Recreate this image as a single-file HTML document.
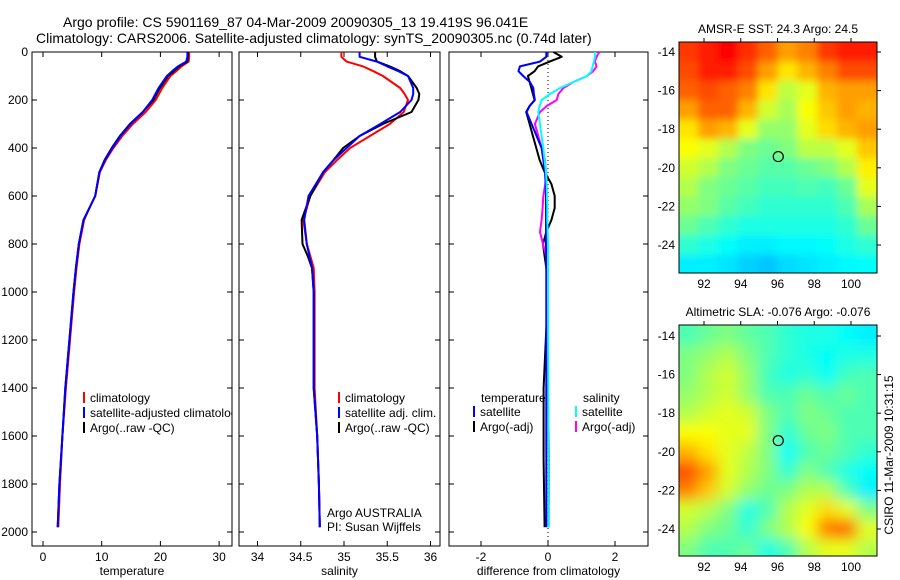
<!DOCTYPE html>
<html><head><meta charset="utf-8">
<style>
html,body{margin:0;padding:0;background:#fff;}
svg{display:block;font-family:"Liberation Sans",Arial,sans-serif;}
text{fill:#000;}
</style></head>
<body>
<svg id="chart" width="900" height="580" viewBox="0 0 900 580" xmlns="http://www.w3.org/2000/svg">
<defs>
<clipPath id="clip1"><rect x="32" y="52" width="200" height="494"/></clipPath>
<clipPath id="clip2"><rect x="239" y="52" width="201" height="494"/></clipPath>
<clipPath id="clip3"><rect x="449" y="52" width="199" height="494"/></clipPath>
<clipPath id="clipM1"><rect x="679" y="42" width="198" height="231"/></clipPath>
<clipPath id="clipM2"><rect x="679" y="325" width="198" height="231"/></clipPath>
<filter id="blur" x="-5%" y="-5%" width="110%" height="110%"><feGaussianBlur stdDeviation="7"/></filter>
<filter id="blur2" x="-5%" y="-5%" width="110%" height="110%"><feGaussianBlur stdDeviation="4"/></filter>
</defs>
<text x="63" y="27" font-size="14">Argo profile: CS 5901169_87 04-Mar-2009 20090305_13 19.419S 96.041E</text>
<text x="36" y="43" font-size="14">Climatology: CARS2006. Satellite-adjusted climatology: synTS_20090305.nc (0.74d later)</text>
<g id="layer"></g>
<text transform="translate(893,455) rotate(-90)" text-anchor="middle" font-size="12">CSIRO 11-Mar-2009 10:31:15</text>
</svg>
<script>
// ---------- data ----------
const depthT = [0,20,40,60,80,100,150,200,250,300,350,400,450,500,600,650,700,800,900,1000,1200,1400,1600,1800,1980];
const tempArgo = [24.7,24.7,24.6,23.2,22.3,21.3,19.9,18.8,17.0,14.8,13.1,11.7,10.5,9.6,8.9,7.9,6.9,6.1,5.6,5.2,4.5,3.8,3.3,2.8,2.5];
const tempClim = [24.9,24.9,24.8,23.6,22.7,21.7,20.3,19.2,17.5,15.3,13.5,12.0,10.7,9.7,8.9,7.9,7.0,6.2,5.7,5.3,4.6,3.9,3.3,2.9,2.6];
const tempSat  = [24.6,24.6,24.4,23.0,22.0,21.1,19.7,18.6,17.0,14.9,13.2,11.8,10.6,9.6,8.9,7.9,6.9,6.1,5.6,5.2,4.5,3.8,3.3,2.8,2.5];

const depthS = [0,20,40,60,80,100,150,175,200,250,300,350,400,450,500,600,700,800,850,900,1000,1400,1600,1800,1980];
const salArgo = [35.36,35.36,35.38,35.53,35.65,35.74,35.84,35.87,35.86,35.78,35.45,35.18,34.99,34.88,34.76,34.61,34.51,34.52,34.58,34.63,34.65,34.65,34.69,34.71,34.72];
const salClim = [34.97,34.97,35.03,35.22,35.34,35.45,35.65,35.70,35.74,35.69,35.53,35.30,35.07,34.92,34.78,34.61,34.53,34.57,34.61,34.65,34.66,34.66,34.69,34.71,34.72];
const salSat  = [35.18,35.18,35.38,35.50,35.63,35.74,35.80,35.80,35.78,35.65,35.42,35.18,35.03,34.88,34.76,34.59,34.54,34.57,34.60,34.63,34.65,34.65,34.69,34.71,34.72];

const depthD = [0,20,40,60,80,100,125,150,175,200,225,250,300,350,400,450,500,550,600,650,700,750,800,850,900,1000,1400,1700,1980];
const dTempArgo = [0.16,0.41,0.05,-0.30,-0.40,-0.60,-0.55,-0.50,-0.45,-0.40,-0.55,-0.65,-0.55,-0.45,-0.35,-0.25,-0.10,0.10,0.20,0.20,0.10,-0.05,-0.15,-0.10,-0.05,0.0,-0.13,-0.13,-0.10];
const dTempSat  = [-0.05,-0.05,-0.24,-0.84,-0.88,-0.74,-0.54,-0.44,-0.42,-0.39,-0.55,-0.64,-0.49,-0.34,-0.19,-0.14,-0.09,-0.07,-0.06,-0.06,-0.06,-0.06,-0.06,-0.05,-0.05,-0.05,-0.05,-0.05,-0.05];
const dSalSat   = [1.40,1.40,1.37,1.33,1.30,1.16,0.76,0.36,0.06,-0.19,-0.25,-0.29,-0.24,-0.19,-0.14,-0.10,-0.06,-0.04,-0.03,-0.02,-0.02,-0.01,0.0,0.0,0.0,0.0,0.01,0.02,0.02];
const dSalArgo  = [1.53,1.45,1.40,1.45,1.35,1.16,0.76,0.46,0.31,0.26,-0.04,-0.24,-0.39,-0.29,-0.19,-0.09,-0.06,-0.08,-0.14,-0.16,-0.19,-0.24,-0.15,-0.05,-0.02,0.0,0.0,0.03,0.02];

const tempTicks = [0,10,20,30];
const salTicks = [34,34.5,35,35.5,36];
const salTickLabels = ["34","34.5","35","35.5","36"];
const diffTicks = [-2,0,2];
const depthTicks = [0,200,400,600,800,1000,1200,1400,1600,1800,2000];

const lonTicks = [92,94,96,98,100];
const latTicks = [14,16,18,20,22,24];
const argoLon = 96.041, argoLat = 19.419;
const sstGrid = [
[0.82,0.85,0.87,0.83,0.78,0.72,0.75,0.82,0.85,0.85],
[0.80,0.85,0.85,0.80,0.72,0.65,0.70,0.75,0.80,0.80],
[0.78,0.80,0.78,0.75,0.65,0.56,0.60,0.70,0.72,0.72],
[0.72,0.78,0.78,0.70,0.58,0.54,0.62,0.68,0.72,0.70],
[0.65,0.72,0.70,0.60,0.52,0.52,0.60,0.66,0.70,0.72],
[0.62,0.60,0.55,0.50,0.48,0.50,0.56,0.56,0.60,0.68],
[0.58,0.55,0.50,0.48,0.46,0.46,0.48,0.50,0.55,0.64],
[0.55,0.50,0.48,0.46,0.44,0.44,0.45,0.44,0.48,0.60],
[0.52,0.50,0.46,0.44,0.42,0.42,0.42,0.42,0.45,0.54],
[0.48,0.45,0.42,0.40,0.40,0.40,0.40,0.40,0.42,0.48],
[0.42,0.40,0.38,0.36,0.36,0.37,0.37,0.38,0.40,0.42],
[0.36,0.36,0.35,0.33,0.32,0.34,0.35,0.36,0.37,0.38]];
const slaGrid = [
[0.45,0.48,0.50,0.47,0.45,0.42,0.40,0.40,0.38,0.36],
[0.50,0.52,0.55,0.50,0.45,0.42,0.40,0.38,0.40,0.40],
[0.50,0.55,0.58,0.52,0.44,0.40,0.42,0.38,0.44,0.45],
[0.52,0.55,0.58,0.52,0.45,0.45,0.48,0.45,0.48,0.45],
[0.55,0.58,0.60,0.58,0.50,0.45,0.50,0.48,0.45,0.45],
[0.62,0.62,0.60,0.60,0.50,0.42,0.48,0.50,0.45,0.45],
[0.70,0.65,0.60,0.56,0.50,0.38,0.45,0.48,0.45,0.42],
[0.80,0.72,0.60,0.55,0.50,0.42,0.50,0.45,0.40,0.38],
[0.75,0.68,0.58,0.52,0.48,0.50,0.55,0.55,0.45,0.36],
[0.58,0.55,0.50,0.40,0.45,0.55,0.60,0.66,0.60,0.50],
[0.55,0.50,0.48,0.42,0.50,0.55,0.62,0.76,0.78,0.60],
[0.50,0.45,0.45,0.48,0.40,0.45,0.55,0.60,0.60,0.55]];

// ---------- helpers ----------
const NS="http://www.w3.org/2000/svg";
const layer=document.getElementById('layer');
function mk(tag,attrs,parent){const e=document.createElementNS(NS,tag);for(const k in attrs)e.setAttribute(k,attrs[k]);(parent||layer).appendChild(e);return e;}
const yTop=52, yBot=546;
const yDepth = z => yTop + 0.24*z;

function jet(v){v=Math.max(0,Math.min(1,v));
 const r=Math.max(0,Math.min(1,Math.min(4*v-1.5,-4*v+4.5)));
 const g=Math.max(0,Math.min(1,Math.min(4*v-0.5,-4*v+3.5)));
 const b=Math.max(0,Math.min(1,Math.min(4*v+0.5,-4*v+2.5)));
 return `rgb(${Math.round(r*255)},${Math.round(g*255)},${Math.round(b*255)})`;}

function panel(name,x0,x1,xs,ticks,labels,xlabel,showY,clipId){
 const g=mk('g',{});
 
 
 const box=mk('rect',{x:x0,y:yTop,width:x1-x0,height:yBot-yTop,fill:'#fff',stroke:'#000','stroke-width':1},g);
 
 
 ticks.forEach((t,i)=>{const x=xs(t);
  mk('line',{x1:x,x2:x,y1:yTop,y2:yTop+5,stroke:'#000'},g);
  mk('line',{x1:x,x2:x,y1:yBot,y2:yBot-5,stroke:'#000'},g);
  const tl=mk('text',{x:x,y:yBot+15,'font-size':12,'text-anchor':'middle'},g);
  tl.textContent=labels[i];
  
  
 });
 depthTicks.forEach(d=>{const y=yDepth(d);
  mk('line',{x1:x0,x2:x0+5,y1:y,y2:y,stroke:'#000'},g);
  mk('line',{x1:x1,x2:x1-5,y1:y,y2:y,stroke:'#000'},g);
  if(showY){const tl=mk('text',{x:x0-4,y:y+4,'font-size':12,'text-anchor':'end'},g);tl.textContent=d;
   
   }
 });
 const xl=mk('text',{x:(x0+x1)/2,y:575,'font-size':12,'text-anchor':'middle'},g);
 xl.textContent=xlabel;
 
 
 const plot=mk('g',{'clip-path':`url(#${clipId})`},g);
 return plot;
}
function line(parent,name,xs,vals,depths,color,w){
 const d=vals.map((v,i)=>(i?'L':'M')+xs(v).toFixed(1)+','+yDepth(depths[i]).toFixed(1)).join(' ');
 const p=mk('path',{d:d,fill:'none',stroke:color,'stroke-width':w||2,'stroke-linejoin':'round'},parent);
 
 
}
function legendItem(parent,name,x,y,color,label){
 if(color){mk('rect',{x:x,y:y-10,width:2,height:11,fill:color},parent);}
 const t=mk('text',{x:x+7,y:y,'font-size':12},parent);t.textContent=label;
 
 
}

const xT=t=>43+5.87*t;
const p1=panel('temperature-panel',32,232,xT,tempTicks,tempTicks.map(String),'temperature',true,'clip1');
line(p1,'temp-climatology-line',xT,tempClim,depthT,'#ff0000');
line(p1,'temp-argo-line',xT,tempArgo,depthT,'#000000');
line(p1,'temp-satellite-line',xT,tempSat,depthT,'#0000ff');
legendItem(p1,'legend-climatology',83,402,'#ff0000','climatology');
legendItem(p1,'legend-satellite-adjusted',83,417,'#0000ff','satellite-adjusted climatology');
legendItem(p1,'legend-argo',83,432,'#000000','Argo(..raw -QC)');

const xS=s=>257.5+86.5*(s-34);
const p2=panel('salinity-panel',239,440,xS,salTicks,salTickLabels,'salinity',false,'clip2');
line(p2,'sal-climatology-line',xS,salClim,depthS,'#ff0000');
line(p2,'sal-argo-line',xS,salArgo,depthS,'#000000');
line(p2,'sal-satellite-line',xS,salSat,depthS,'#0000ff');
legendItem(p2,'legend-sal-climatology',338,402,'#ff0000','climatology');
legendItem(p2,'legend-sal-satellite',338,417,'#0000ff','satellite adj. clim.');
legendItem(p2,'legend-sal-argo',338,432,'#000000','Argo(..raw -QC)');
const a1=mk('text',{x:327,y:517,'font-size':12},p2);a1.textContent='Argo AUSTRALIA';


const a2=mk('text',{x:327,y:531,'font-size':12},p2);a2.textContent='PI: Susan Wijffels';



const xD=d=>548+33.5*d;
const p3=panel('difference-panel',449,648,xD,diffTicks,diffTicks.map(String),'difference from climatology',false,'clip3');
const zl=mk('line',{x1:xD(0),x2:xD(0),y1:yTop,y2:yBot,stroke:'#000','stroke-dasharray':'1,3'},p3);


line(p3,'diff-temp-argo-line',xD,dTempArgo,depthD,'#000000');
line(p3,'diff-sal-argo-line',xD,dSalArgo,depthD,'#ff00ff');
line(p3,'diff-temp-satellite-line',xD,dTempSat,depthD,'#0000ff');
line(p3,'diff-sal-satellite-line',xD,dSalSat,depthD,'#00ffff');
legendItem(p3,'legend-temperature-heading',474,402,null,'temperature');
legendItem(p3,'legend-diff-temp-satellite',473,416,'#0000ff','satellite');
legendItem(p3,'legend-diff-temp-argo',473,431,'#000000','Argo(-adj)');
legendItem(p3,'legend-salinity-heading',576,402,null,'salinity');
legendItem(p3,'legend-diff-sal-satellite',575,416,'#00ffff','satellite');
legendItem(p3,'legend-diff-sal-argo',575,431,'#ff00ff','Argo(-adj)');

function map(name,title,grid,top,bottom,lat14,lat24,clipId,filt){
 const g=mk('g',{});
 
 
 const x0=679,x1=877;
 const lonX=l=>704+(l-92)*18.375;
 const latY=l=>lat14+(l-14)*(lat24-lat14)/10;
 const tt=mk('text',{x:778,y:top-9,'font-size':12,'text-anchor':'middle'},g);tt.textContent=title;
 
 
 const cg=mk('g',{'clip-path':`url(#${clipId})`},g);
 const img=mk('g',{filter:`url(#${filt})`},cg);
 const rows=grid.length, cols=grid[0].length;
 const lon0=90.6, lon1=101.4, lat0=13.5, lat1=25.5;
 grid.forEach((row,r)=>row.forEach((v,c)=>{
  const xa=lonX(lon0+(lon1-lon0)*c/cols), xb=lonX(lon0+(lon1-lon0)*(c+1)/cols);
  const ya=latY(lat0+(lat1-lat0)*r/rows), yb=latY(lat0+(lat1-lat0)*(r+1)/rows);
  const ex=(c===0?-15:0), ex2=(c===cols-1?15:0), ey=(r===0?-15:0), ey2=(r===rows-1?15:0);
  const cell=mk('rect',{x:xa+ex,y:ya+ey,width:xb-xa+0.6-ex+ex2,height:yb-ya+0.6-ey+ey2,fill:jet(v)},img);
  
  
 }));
 mk('rect',{x:x0,y:top,width:x1-x0,height:bottom-top,fill:'none',stroke:'#000'},g);
 lonTicks.forEach(l=>{const x=lonX(l);
  mk('line',{x1:x,x2:x,y1:top,y2:top-4,stroke:'#000'},g);
  const t=mk('text',{x:x,y:bottom+15,'font-size':12,'text-anchor':'middle'},g);t.textContent=l;
  
  });
 latTicks.forEach(l=>{const y=latY(l);
  mk('line',{x1:x1,x2:x1+4,y1:y,y2:y,stroke:'#000'},g);
  const t=mk('text',{x:x0-4,y:y+4,'font-size':12,'text-anchor':'end'},g);t.textContent='-'+l;
  
  });
 const c=mk('circle',{cx:lonX(argoLon),cy:latY(argoLat),r:5,fill:'none',stroke:'#000','stroke-width':1.2},g);
 
 
}
map('sst-map','AMSR-E SST: 24.3 Argo: 24.5',sstGrid,42,273,52,245,'clipM1','blur2');
map('sla-map','Altimetric SLA: -0.076 Argo: -0.076',slaGrid,325,556,336,529,'clipM2','blur');
</script>
</body></html>
